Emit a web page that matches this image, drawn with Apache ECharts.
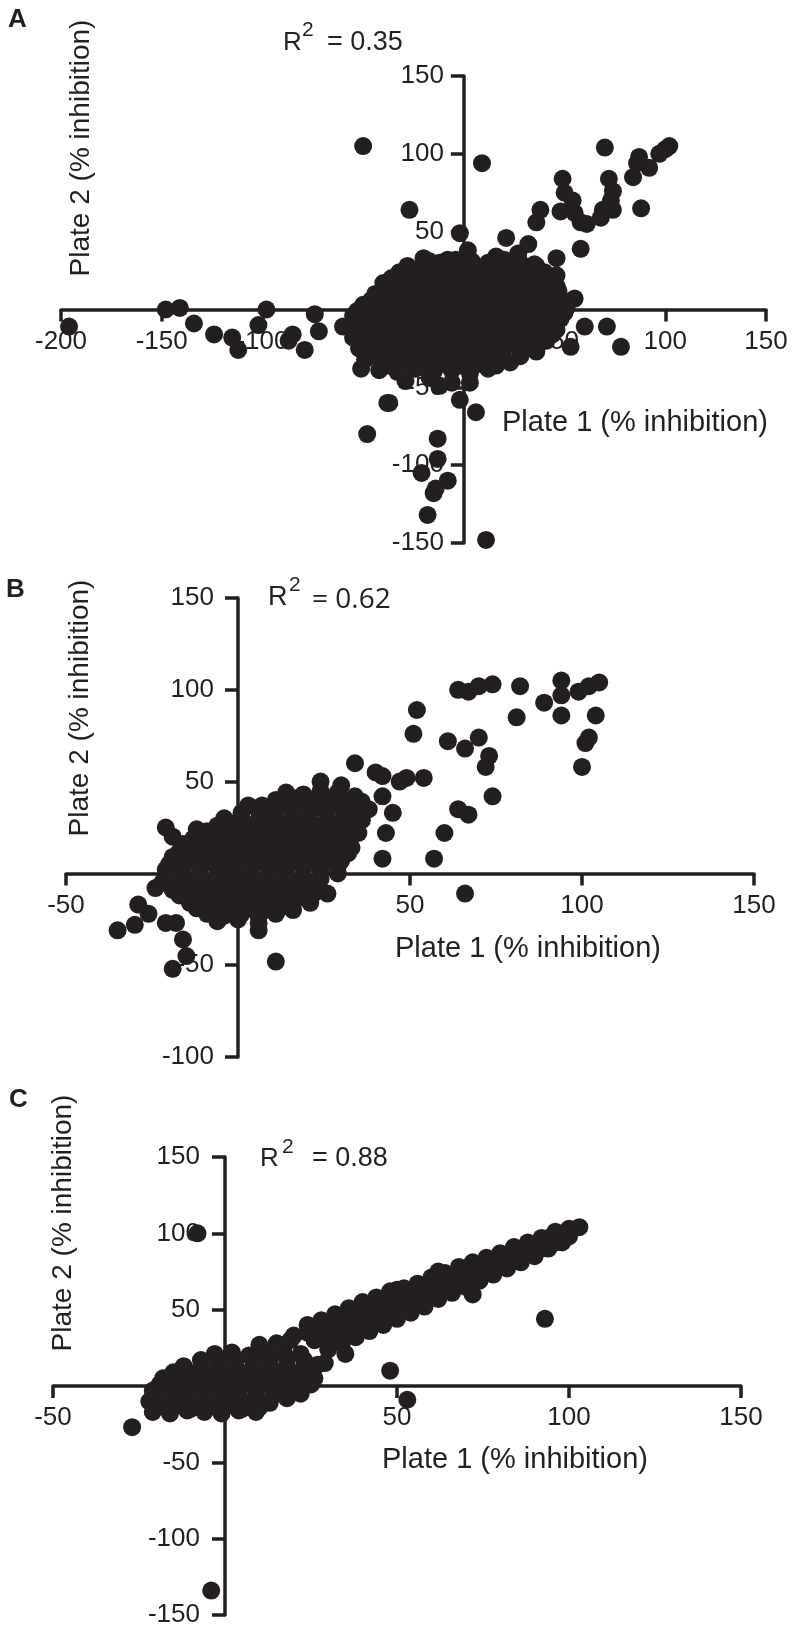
<!DOCTYPE html>
<html>
<head>
<meta charset="utf-8">
<script src="https://cdn.jsdelivr.net/npm/echarts@6/dist/echarts.min.js"></script>
<style>
html,body{margin:0;padding:0;background:#fff;}
#chart{width:793px;height:1630px;}
</style>
</head>
<body>
<div id="chart"></div>
<script>
// ---------- Axis ranges ----------
const aXRange = [-200, 150];
const aYRange = [-150, 150];
const bXRange = [-50, 150];
const bYRange = [-100, 150];
const cXRange = [-50, 150];
const cYRange = [-150, 150];
const tickStep = 50;

// ---------- Panel A (R2 = 0.35) ----------
const aOutliers = [
  [-196,-11],[-148,0],[-141,1],[-134,-9],[-124,-16],[-115,-18],[-112,-26],[-102,-10],[-98,0],
  [-87,-20],[-85,-16],[-79,-26],[-74,-3],[-72,-14],[-60,-11],[-51,0],[-51,-38],[-38,-60],[-48,-80],
  [-50,105],[9,94],[-27,64],[70,104],[102,105],[100,103],[97,100],[87,98],[86,94],[92,91],[84,85],
  [88,65],[72,84],[74,76],[73,70],[74,64],[69,64],[68,59],[61,55],[58,56],[55,62],[50,75],[49,84],
  [54,70],[48,63],[58,39],[38,64],[36,56],[32,42],[27,36],[21,46],[16,34],[46,33],[46,22],[-2,49],
  [2,38],[-17,31],[-8,32],[60,-11],[71,-11],[78,-24],[53,-24],[55,7],
  [-2,-58],[6,-66],[3,-47],[-12,-49],[-37,-60],
  [-13,-83],[-13,-96],[-21,-105],[-14,-115],[-8,-110],[-15,-118],[-18,-132],[11,-148]
];
const aCluster = [
  [-20,33],[-12,30],[-4,32],[4,31],[12,30],[20,32],[28,30],[35,29],
  [-32,24],[-24,25],[-16,23],[-8,24],[0,25],[8,24],[16,23],[24,25],[32,23],[40,24],
  [-40,17],[-32,18],[-24,16],[-16,17],[-8,18],[0,16],[8,17],[16,18],[24,16],[32,17],[40,18],[46,15],
  [-44,10],[-36,11],[-28,9],[-20,10],[-12,11],[-4,9],[4,10],[12,11],[20,9],[28,10],[36,11],[44,9],
  [-50,3],[-42,4],[-34,2],[-26,3],[-18,4],[-10,2],[-2,3],[6,4],[14,2],[22,3],[30,4],[38,2],[46,3],[51,1],
  [-55,-4],[-47,-3],[-39,-5],[-31,-4],[-23,-3],[-15,-5],[-7,-4],[1,-3],[9,-5],[17,-4],[25,-3],[33,-5],[41,-4],[48,-6],
  [-56,-11],[-48,-12],[-40,-10],[-32,-11],[-24,-12],[-16,-10],[-8,-11],[0,-12],[8,-10],[16,-11],[24,-12],[32,-10],[40,-11],[46,-13],
  [-55,-18],[-47,-19],[-39,-17],[-31,-18],[-23,-19],[-15,-17],[-7,-18],[1,-19],[9,-17],[17,-18],[25,-19],[33,-17],[41,-20],
  [-52,-25],[-44,-26],[-36,-24],[-28,-25],[-20,-26],[-12,-24],[-4,-25],[4,-26],[12,-24],[20,-25],[28,-26],[36,-27],
  [-49,-32],[-41,-33],[-33,-31],[-25,-32],[-17,-33],[-9,-31],[-1,-32],[7,-33],[15,-31],[23,-34],
  [-42,-39],[-33,-40],[-24,-38],[-15,-40],[-6,-39],[3,-41],[12,-38],
  [-29,-46],[-17,-44],[-6,-47]
];
const aClusterFill = [
  [-28,28],[-20,28],[-12,27],[-4,28],[4,28],[12,27],[20,28],[28,27],[36,28],
  [-36,20],[-28,21],[-20,20],[-12,21],[-4,20],[4,21],[12,20],[20,21],[28,20],[36,21],[43,20],
  [-40,13],[-32,14],[-24,13],[-16,14],[-8,13],[0,14],[8,13],[16,14],[24,13],[32,14],[40,13],[47,12],
  [-46,6],[-38,7],[-30,6],[-22,7],[-14,6],[-6,7],[2,6],[10,7],[18,6],[26,7],[34,6],[42,7],[49,6],
  [-53,-1],[-45,0],[-37,-1],[-29,0],[-21,-1],[-13,0],[-5,-1],[3,0],[11,-1],[19,0],[27,-1],[35,0],[43,-1],[50,-2],
  [-52,-8],[-44,-7],[-36,-8],[-28,-7],[-20,-8],[-12,-7],[-4,-8],[4,-7],[12,-8],[20,-7],[28,-8],[36,-7],[44,-8],
  [-52,-15],[-44,-14],[-36,-15],[-28,-14],[-20,-15],[-12,-14],[-4,-15],[4,-14],[12,-15],[20,-14],[28,-15],[36,-14],[44,-16],
  [-50,-22],[-42,-21],[-34,-22],[-26,-21],[-18,-22],[-10,-21],[-2,-22],[6,-21],[14,-22],[22,-21],[30,-22],[38,-21],
  [-46,-29],[-38,-28],[-30,-29],[-22,-28],[-14,-29],[-6,-28],[2,-29],[10,-28],[18,-29],[28,-30],
  [-38,-36],[-29,-35],[-20,-36],[-11,-35],[-2,-36],[7,-35],[16,-36]
];

// ---------- Panel B (R2 = 0.62) ----------
const bOutliers = [
  [64,100],[67,99],[70,102],[74,103],[82,102],[81,85],[89,93],[94,105],[94,97],[99,99],[102,102],[105,104],
  [94,86],[104,86],[102,74],[101,71],[100,58],[52,89],[51,76],[61,72],[66,68],[70,74],[73,64],[72,58],
  [74,42],[64,35],[67,32],[54,52],[49,52],[47,50],[42,53],[42,42],[42,8],[57,8],[66,-11],[43,22],[45,33],[60,22],
  [-35,-31],[-30,-28],[-29,-17],[-26,-22],[-24,-8],[-21,25],[-19,20],[-21,-27],[-18,-27],[-16,-36],[-15,-45],
  [-19,-52],[-12,24],[6,-31],[11,-48],[12,-19],[16,-20],[21,-16],[26,-11],
  [34,60],[24,50],[30,48],[40,55],[7,37]
];
const bCluster = [
  [14,44],[19,43],[24,45],[29,44],[34,42],
  [3,37],[8,36],[13,38],[18,37],[23,36],[28,38],[33,37],[38,35],
  [-4,30],[1,31],[6,29],[11,30],[16,31],[21,29],[26,30],[31,31],[36,29],
  [-9,23],[-4,22],[1,24],[6,23],[11,22],[16,24],[21,23],[26,22],[31,24],[35,22],
  [-16,16],[-11,15],[-6,17],[-1,16],[4,15],[9,17],[14,16],[19,15],[24,17],[29,16],[33,14],
  [-19,9],[-14,8],[-9,10],[-4,9],[1,8],[6,10],[11,9],[16,8],[21,10],[26,9],[30,7],
  [-21,2],[-16,1],[-11,3],[-6,2],[-1,1],[4,3],[9,2],[14,1],[19,3],[24,2],[29,0],
  [-22,-5],[-17,-6],[-12,-4],[-7,-5],[-2,-6],[3,-4],[8,-5],[13,-6],[18,-4],[23,-6],
  [-17,-12],[-12,-13],[-7,-11],[-2,-12],[3,-13],[8,-11],[13,-12],[18,-13],[22,-11],
  [-12,-19],[-7,-20],[-2,-18],[3,-19],[8,-20],[13,-18],
  [-6,-26],[0,-25],[6,-27]
];
const bClusterFill = [
  [11,40],[16,41],[21,40],[26,41],[31,40],[36,39],
  [1,33],[6,34],[11,33],[16,34],[21,33],[26,34],[31,33],[36,32],
  [-6,26],[-1,27],[4,26],[9,27],[14,26],[19,27],[24,26],[29,27],[33,26],
  [-13,19],[-8,20],[-3,19],[2,20],[7,19],[12,20],[17,19],[22,20],[27,19],[32,19],
  [-17,12],[-12,13],[-7,12],[-2,13],[3,12],[8,13],[13,12],[18,13],[23,12],[28,12],[32,11],
  [-20,5],[-15,6],[-10,5],[-5,6],[0,5],[5,6],[10,5],[15,6],[20,5],[25,6],[29,4],
  [-21,-2],[-16,-1],[-11,-2],[-6,-1],[-1,-2],[4,-1],[9,-2],[14,-1],[19,-2],[24,-3],
  [-19,-9],[-14,-8],[-9,-9],[-4,-8],[1,-9],[6,-8],[11,-9],[16,-8],[21,-9],
  [-14,-16],[-9,-15],[-4,-16],[1,-15],[6,-16],[11,-15],[16,-16],
  [-9,-22],[-4,-23],[1,-22],[6,-23],[11,-22]
];

// ---------- Panel C (R2 = 0.88) ----------
const cOutliers = [
  [-8,100],[93,44],[72,60],[62,75],[50,63],[48,10],[53,-9],[22,-5],[-27,-27],[-4,-134],[29,15],[35,21]
];
const cCluster = [
  [-3,21],[2,22],[7,20],[12,21],[17,22],[22,21],[10,27],[15,28],[19,30],
  [-12,13],[-7,12],[-2,14],[3,13],[8,12],[13,14],[18,13],[23,12],[27,14],
  [-18,5],[-13,4],[-8,6],[-3,5],[2,4],[7,6],[12,5],[17,4],[22,6],[26,5],
  [-21,-3],[-16,-2],[-11,-4],[-6,-3],[-1,-2],[4,-4],[9,-3],[14,-2],[19,-4],
  [-22,-10],[-17,-11],[-12,-9],[-7,-10],[-2,-11],[3,-9],[8,-10],[13,-11],
  [-21,-17],[-16,-18],[-11,-16],[-6,-17],[-1,-18],[4,-16],[9,-17]
];
const cClusterFill = [
  [-7,17],[-2,18],[3,17],[8,18],[13,17],[18,18],[23,17],[20,33],[24,35],[26,30],
  [-15,9],[-10,8],[-5,10],[0,9],[5,8],[10,10],[15,9],[20,8],[25,10],
  [-19,1],[-14,0],[-9,2],[-4,1],[1,0],[6,2],[11,1],[16,0],[21,2],[25,1],
  [-21,-7],[-16,-6],[-11,-8],[-6,-7],[-1,-6],[4,-8],[9,-7],[14,-6],[18,-8],
  [-20,-14],[-15,-13],[-10,-15],[-5,-14],[0,-13],[5,-15],[10,-14]
];
const cBand = [
  [30,24],[34,28],[38,32],[42,36],[46,40],[50,44],[54,48],[58,52],[62,57],[66,61],[70,65],[74,69],[78,73],[82,77],[86,81],[90,85],[94,90],[98,94],
  [28,32],[32,35],[36,39],[40,43],[44,47],[48,51],[52,55],[56,59],[60,63],[64,67],[68,71],[72,75],[76,79],[80,83],[84,87],[88,91],[92,95],[96,98],[100,101],[103,104],
  [24,40],[28,43],[32,47],[36,51],[40,55],[44,58],[48,62],[52,64],[56,67],[60,71],[64,74],[68,78],[72,81],[76,84],[80,87],[84,91],[88,94],[92,97],[96,101],[100,103]
];
const cBandFill = [
  [32,29],[36,33],[40,37],[44,42],[48,46],[52,50],[56,54],[60,58],[64,62],[68,66],[72,70],[76,74],[80,78],[84,82],[88,86],[92,90],[96,94],[100,98],
  [26,36],[30,39],[34,43],[38,47],[42,51],[46,55],[50,58],[54,61],[58,64],[62,68],[66,72],[70,75],[74,79],[78,83],[82,86],[86,89],[90,93],[94,97],[98,100]
];

// ---------- Layout ----------
const grids = [
  { left: 61, top: 76, width: 705, height: 467 },
  { left: 66, top: 598, width: 688, height: 459 },
  { left: 53, top: 1157, width: 688, height: 458 }
];

// ---------- Styling ----------
const INK = '#231f20';
const FONT = '"Liberation Sans", Arial, Helvetica, sans-serif';
const DOT = 18;

// pixel distance of the value 0 from the axis start (axes cross at zero)
function zeroDist(size, range) { return size * (0 - range[0]) / (range[1] - range[0]); }

function xAxisDef(gi, range, yRange) {
  return {
    type: 'value', gridIndex: gi, min: range[0], max: range[1], interval: tickStep,
    position: 'bottom', offset: -zeroDist(grids[gi].height, yRange),
    axisLine: { onZero: false, lineStyle: { color: INK, width: 3.5 } },
    axisTick: { length: 12, lineStyle: { color: INK, width: 3.5 } },
    axisLabel: { margin: 19, fontSize: 26, color: INK, fontFamily: FONT,
      formatter: v => (v === 0 ? '' : String(v)) },
    splitLine: { show: false }
  };
}
function yAxisDef(gi, range, xRange, margin) {
  return {
    type: 'value', gridIndex: gi, min: range[0], max: range[1], interval: tickStep,
    position: 'left', offset: -zeroDist(grids[gi].width, xRange),
    axisLine: { onZero: false, lineStyle: { color: INK, width: 3.5 } },
    axisTick: { length: 13, lineStyle: { color: INK, width: 3.5 } },
    axisLabel: { margin: margin, fontSize: 26, color: INK, fontFamily: FONT,
      formatter: v => (v === 0 ? '' : String(v)) },
    splitLine: { show: false }
  };
}
function scatter(idx, data) {
  return {
    type: 'scatter', xAxisIndex: idx, yAxisIndex: idx, data: data,
    symbol: 'circle', symbolSize: DOT, itemStyle: { color: INK, opacity: 1 },
    emphasis: { disabled: true }, silent: true, z: 3
  };
}
function txt(x, y, text, font, opts) {
  const o = opts || {};
  return {
    type: 'text', x: x, y: y, rotation: o.rot || 0, silent: true, z: 10,
    style: { text: text, font: font, fill: INK, align: o.align || 'left', verticalAlign: 'middle' }
  };
}

const chart = echarts.init(document.getElementById('chart'), null, { renderer: 'canvas' });
chart.setOption({
  animation: false,
  backgroundColor: '#ffffff',
  grid: grids,
  xAxis: [ xAxisDef(0, aXRange, aYRange), xAxisDef(1, bXRange, bYRange), xAxisDef(2, cXRange, cYRange) ],
  yAxis: [ yAxisDef(0, aYRange, aXRange, 20), yAxisDef(1, bYRange, bXRange, 24), yAxisDef(2, cYRange, cXRange, 25) ],
  series: [
    scatter(0, aOutliers.concat(aCluster, aClusterFill)),
    scatter(1, bOutliers.concat(bCluster, bClusterFill)),
    scatter(2, cOutliers.concat(cCluster, cClusterFill, cBand, cBandFill))
  ],
  graphic: [
    // Panel A
    txt(8, 20, 'A', 'bold 26px ' + FONT),
    txt(81, 148, 'Plate 2 (% inhibition)', '28px ' + FONT, { rot: Math.PI / 2, align: 'center' }),
    txt(283, 43, 'R', '26px ' + FONT),
    txt(302, 30, '2', '21px ' + FONT),
    txt(327, 43, '= 0.35', '27px ' + FONT),
    txt(502, 423, 'Plate 1 (% inhibition)', '29px ' + FONT),
    // Panel B
    txt(6, 590, 'B', 'bold 26px ' + FONT),
    txt(80, 708, 'Plate 2 (% inhibition)', '28px ' + FONT, { rot: Math.PI / 2, align: 'center' }),
    txt(268, 598, 'R', '27px ' + FONT),
    txt(289, 585, '2', '21px ' + FONT),
    txt(312, 600, '= 0.62', '28px "Open Sans", ' + FONT),
    txt(395, 949, 'Plate 1 (% inhibition)', '29px ' + FONT),
    // Panel C
    txt(9, 1100, 'C', 'bold 26px ' + FONT),
    txt(63, 1223, 'Plate 2 (% inhibition)', '28px ' + FONT, { rot: Math.PI / 2, align: 'center' }),
    txt(260, 1159, 'R', '26px ' + FONT),
    txt(282, 1147, '2', '21px ' + FONT),
    txt(312, 1159, '= 0.88', '27px ' + FONT),
    txt(382, 1460, 'Plate 1 (% inhibition)', '29px ' + FONT)
  ]
});
</script>
</body>
</html>
